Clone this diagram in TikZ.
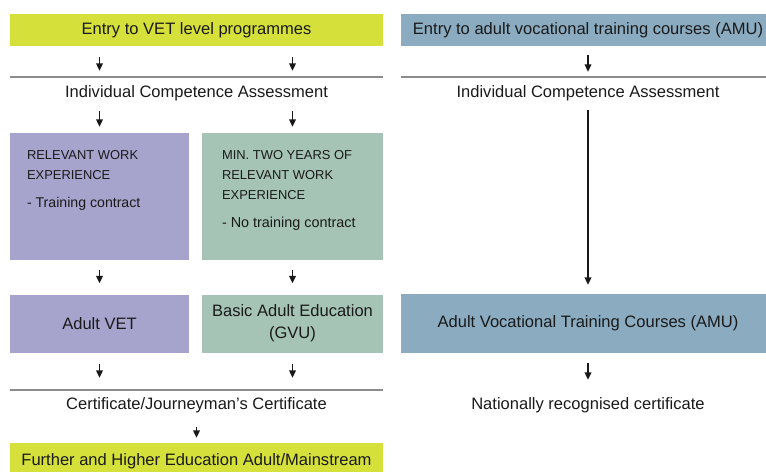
\documentclass[tikz,border=0pt]{standalone}
\usepackage{fontspec}
\setmainfont{Liberation Sans}
\usetikzlibrary{arrows.meta}

\definecolor{vetyellow}{HTML}{D5E03A}
\definecolor{amublue}{HTML}{8AABC0}
\definecolor{wepurple}{HTML}{A6A3CC}
\definecolor{wegreen}{HTML}{A5C4B5}
\definecolor{inkgray}{HTML}{1A1A1A}

\begin{document}
\begin{tikzpicture}[x=0.75pt,y=-0.75pt,
			every node/.style={inner sep=0pt, text=inkgray, font=\fontsize{12.4}{16.5}\selectfont},
			band/.style={minimum height=24pt},
			leftcol/.style={minimum width=279.75pt},
			rightcol/.style={minimum width=280.5pt},
			stage/.style={minimum height=#1},
			purplebox/.style={fill=wepurple, minimum width=134.25pt},
			greenbox/.style={fill=wegreen, minimum width=135.75pt},
			boxtext/.style={anchor=north west, align=left, font=\fontsize{9.7}{15}\selectfont},
			rule/.style={draw=gray!90, line width=1.2pt},
			arr/.style 2 args={-{Triangle[length=5.5pt,width=5pt]}, line width=1pt, draw=black!90,
				shorten <=#1, shorten >=#2}]
			\useasboundingbox (0,0) rectangle (766,471);
			% left column
			\node[band, leftcol, fill=vetyellow] (entryvet) at (196.5,30) {Entry to VET level programmes};
			\node[leftcol, stage=24pt] (ica1) at (196.5,93) {Individual Competence Assessment};
			\node[purplebox, stage=95.25pt] (rwe) at (99.5,196.5) {};
			\node[greenbox, stage=95.25pt] (mwe) at (292.5,196.5) {};
			\node[boxtext] (rwetxt) at ([shift={(17,17)}]rwe.north west)
				{RELEVANT WORK\\EXPERIENCE\\[6pt]{\fontsize{10.6}{15}\selectfont - Training contract}};
			\node[boxtext] (mwetxt) at ([shift={(20,17)}]mwe.north west)
				{MIN. TWO YEARS OF\\RELEVANT WORK\\EXPERIENCE\\[6pt]{\fontsize{10.8}{15}\selectfont - No training contract}};
			\node[purplebox, stage=43.5pt] (adultvet) at (99.5,323.5) {Adult VET};
			\node[greenbox, stage=43.5pt, align=center] (gvu) at (292.5,323.5) {Basic Adult Education\\(GVU)};
			\node[leftcol, stage=22.5pt] (cert) at (196.5,405) {Certificate/Journeyman's Certificate};
			\node[leftcol, stage=27pt, fill=vetyellow] (further) at (196.5,461) {Further and Higher Education Adult/Mainstream};
			\draw[rule] (ica1.north west) -- (ica1.north east);
			\draw[rule] (cert.north west) -- (cert.north east);
			\draw[arr={8.25pt}{4.5pt}] (entryvet.south -| rwe) -- (ica1.north -| rwe);
			\draw[arr={8.25pt}{4.5pt}] (entryvet.south -| mwe) -- (ica1.north -| mwe);
			\draw[arr={1.5pt}{4.5pt}] (ica1.south -| rwe) -- (rwe.north);
			\draw[arr={1.5pt}{4.5pt}] (ica1.south -| mwe) -- (mwe.north);
			\draw[arr={7.5pt}{8.25pt}] (rwe) -- (adultvet);
			\draw[arr={7.5pt}{8.25pt}] (mwe) -- (gvu);
			\draw[arr={8.25pt}{9pt}] (adultvet.south) -- (cert.north -| adultvet);
			\draw[arr={8.25pt}{9pt}] (gvu.south) -- (cert.north -| gvu);
			\draw[arr={5.25pt}{3.75pt}] (cert) -- (further);
			% right column
			\node[band, rightcol, fill=amublue] (entryamu) at (588,30) {Entry to adult vocational training courses (AMU)};
			\node[rightcol, stage=24pt] (ica2) at (588,93) {Individual Competence Assessment};
			\node[rightcol, stage=44.25pt, fill=amublue] (amu) at (588,323.5) {Adult Vocational Training Courses (AMU)};
			\node[rightcol, stage=22.5pt] (natcert) at (588,405) {Nationally recognised certificate};
			\draw[rule] (ica2.north west) -- (ica2.north east);
			\draw[arr={6.75pt}{3.75pt}] (entryamu) -- (ica2);
			\draw[arr={0.75pt}{6.75pt}] (ica2) -- (amu);
			\draw[arr={7.5pt}{7.5pt}] (amu) -- (natcert);
\end{tikzpicture}
\end{document}
